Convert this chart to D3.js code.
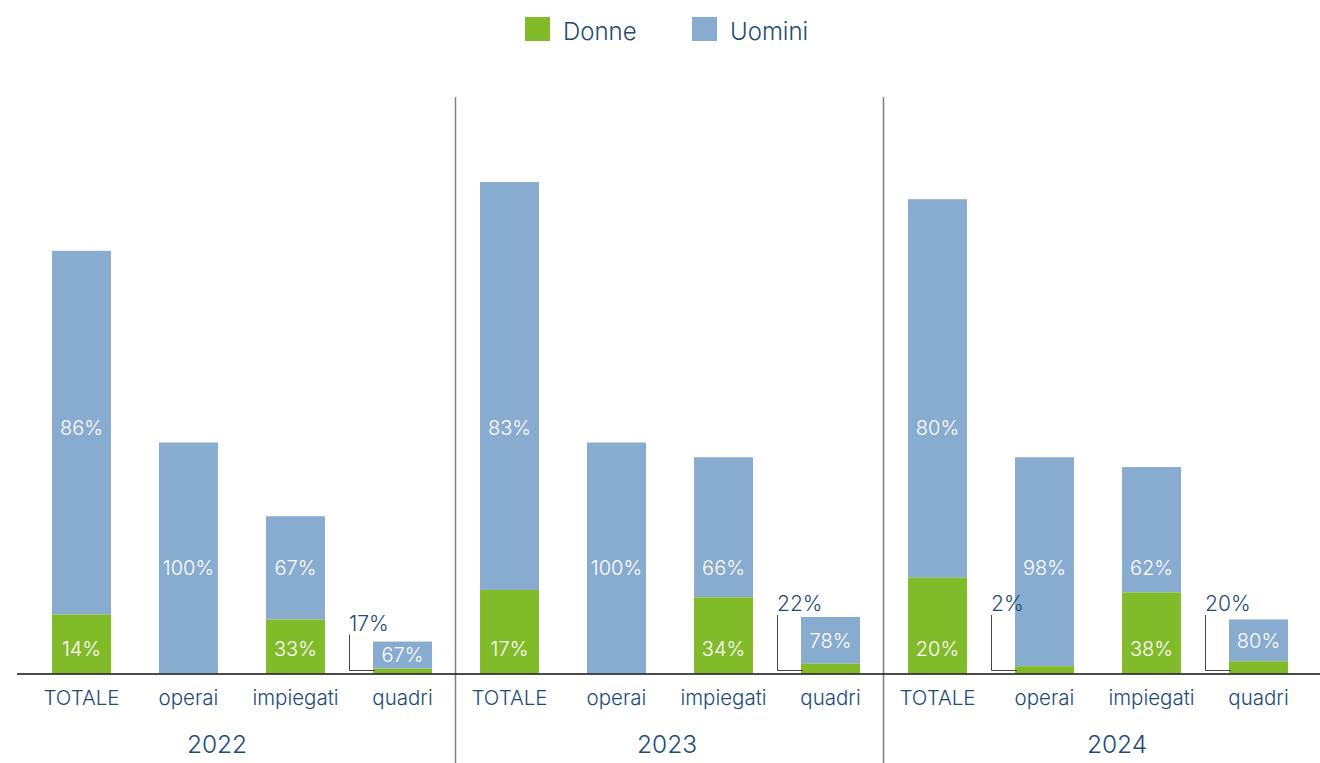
<!DOCTYPE html>
<html>
<head>
<meta charset="utf-8">
<script src="https://cdn.jsdelivr.net/npm/d3@7"></script>
<style>
  body { margin: 0; background: #fff; }
  svg { display: block; font-family: Inter, "Noto Sans", sans-serif; }
</style>
</head>
<body>
<script>
// data
const years = ["2022", "2023", "2024"];
const categories = ["TOTALE", "operai", "impiegati", "quadri"];
const donne = [12, 0, 11, 1, 17, 0, 15.5, 2, 19.5, 1.5, 16.5, 2.5];
const uomini = [74, 47, 21, 5.5, 83, 47, 28.5, 9.5, 77, 42.5, 25.5, 8.5];
const donneLabels = ["14%", "", "33%", "17%", "17%", "", "34%", "22%", "20%", "2%", "38%", "20%"];
const uominiLabels = ["86%", "100%", "67%", "67%", "83%", "100%", "66%", "78%", "80%", "98%", "62%", "80%"];

const width = 1320, height = 763;
const baseY = 673.5;
const green = "#82bb29", blue = "#88abd0", navy = "#1d4b73";

const svg = d3.select("body").append("svg").attr("width", width).attr("height", height);

const idx = d3.range(years.length * categories.length);
const x = d3.scaleBand().domain(idx).range([28, 1312]).paddingInner(0.449).paddingOuter(0.2245);
const y = d3.scaleLinear().domain([0, 100]).range([baseY, 182]);
const xYear = d3.scaleBand().domain(years).range([-8, 1342]);

// legend
const legend = svg.append("g");
[["Donne", green, 525], ["Uomini", blue, 692]].forEach(([name, col, lx]) => {
  legend.append("rect").attr("x", lx).attr("y", 17).attr("width", 25).attr("height", 24).attr("fill", col);
  legend.append("text").attr("x", lx + 38).attr("y", 40).attr("fill", navy)
    .attr("font-size", 24).attr("font-weight", 300).text(name);
});

// group dividers
[4, 8].forEach(i => {
  const dx = Math.round(x(i) - x.step() * x.paddingInner() / 2) - 0.5;
  svg.append("line").attr("x1", dx).attr("x2", dx).attr("y1", 97).attr("y2", height)
    .attr("stroke", "#808080").attr("stroke-width", 1.5);
});

// bars
const bars = svg.append("g");
bars.selectAll("rect.u").data(idx).join("rect").attr("class", "u")
  .attr("x", i => x(i)).attr("width", x.bandwidth())
  .attr("y", i => y(donne[i] + uomini[i]))
  .attr("height", i => y(donne[i]) - y(donne[i] + uomini[i]))
  .attr("fill", blue);
bars.selectAll("rect.d").data(idx.filter(i => donne[i] > 0)).join("rect").attr("class", "d")
  .attr("x", i => x(i)).attr("width", x.bandwidth())
  .attr("y", i => y(donne[i]))
  .attr("height", i => y(0) - y(donne[i]))
  .attr("fill", green);

// axis line
svg.append("line").attr("x1", 17).attr("x2", width).attr("y1", baseY + 0.5).attr("y2", baseY + 0.5)
  .attr("stroke", "#111").attr("stroke-width", 1.6);

// uomini labels
const labels = svg.append("g").attr("font-size", 20).attr("font-weight", 300).attr("text-anchor", "middle");
labels.selectAll("text.u").data(idx).join("text").attr("class", "u")
  .attr("x", i => x(i) + x.bandwidth() / 2)
  .attr("y", i => {
    const lo = donne[i], hi = donne[i] + uomini[i];
    const pref = categories[i % 4] === "TOTALE" ? 50 : 21.5;
    const v = (pref > lo + 3 && pref < hi - 3) ? pref : (lo + hi) / 2;
    return y(v);
  })
  .attr("dy", "0.36em").attr("fill", "#fff").text(i => uominiLabels[i]);

// donne labels: inside when big enough, else callout to the left
const inside = idx.filter(i => donneLabels[i] && y(0) - y(donne[i]) > 30);
const outside = idx.filter(i => donneLabels[i] && y(0) - y(donne[i]) <= 30);
labels.selectAll("text.d").data(inside).join("text").attr("class", "d")
  .attr("x", i => x(i) + x.bandwidth() / 2).attr("y", baseY - 25)
  .attr("dy", "0.36em").attr("fill", "#fff").text(i => donneLabels[i]);

const callY = i => Math.max(y(donne[i] + uomini[i]) - 11, 611);
const call = svg.append("g");
outside.forEach(i => {
  const lx = x(i) - 24;
  call.append("path")
    .attr("d", `M${lx + 0.5},${callY(i) + 4}V${baseY - 3}H${x(i) + 2}`)
    .attr("fill", "none").attr("stroke", "#444").attr("stroke-width", 1);
  call.append("text").attr("x", lx).attr("y", callY(i))
    .attr("font-size", 21).attr("font-weight", 300).attr("fill", navy).text(donneLabels[i]);
});

// category axis
const ax = svg.append("g").attr("transform", `translate(0,${baseY})`)
  .call(d3.axisBottom(x).tickSize(0).tickPadding(17).tickFormat(i => categories[i % 4]));
ax.select(".domain").remove();
ax.selectAll("text").attr("font-size", 20.5).attr("font-weight", 300).attr("fill", navy)
  .attr("font-family", "Inter, sans-serif");

// year labels
svg.append("g").selectAll("text").data(years).join("text")
  .attr("x", d => xYear(d) + xYear.bandwidth() / 2).attr("y", 753)
  .attr("text-anchor", "middle").attr("font-size", 24.5).attr("font-weight", 300)
  .attr("fill", navy).text(d => d);
</script>
</body>
</html>
